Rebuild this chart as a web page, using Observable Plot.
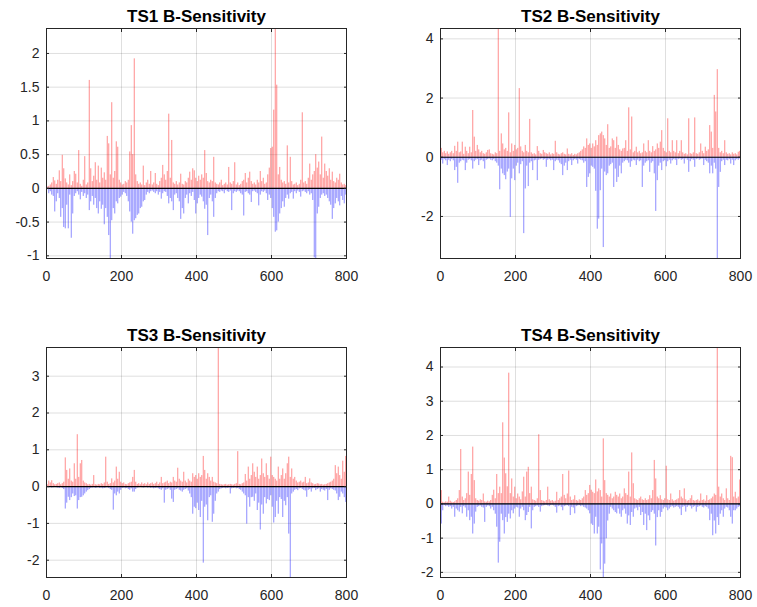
<!DOCTYPE html>
<html><head><meta charset="utf-8">
<script src="https://cdn.jsdelivr.net/npm/d3@7"></script>
<script src="https://cdn.jsdelivr.net/npm/@observablehq/plot@0.6"></script>
<style>
html,body{margin:0;padding:0;background:#fff;overflow:hidden}
body{width:757px;height:607px;position:relative;font-family:"Liberation Sans",Arial,Helvetica,sans-serif}
.p{position:absolute}
</style></head><body>
<div id="c1" class="p" style="left:0;top:0"></div>
<div id="c2" class="p" style="left:394px;top:0"></div>
<div id="c3" class="p" style="left:0;top:319px"></div>
<div id="c4" class="p" style="left:394px;top:319px"></div>
<script>
const titles = ["TS1 B-Sensitivity", "TS2 B-Sensitivity", "TS3 B-Sensitivity", "TS4 B-Sensitivity"];
const xTicks = [0, 200, 400, 600, 800];
const ts1YTicks = [-1, -0.5, 0, 0.5, 1, 1.5, 2];
const ts2YTicks = [-2, 0, 2, 4];
const ts3YTicks = [-2, -1, 0, 1, 2, 3];
const ts4YTicks = [-2, -1, 0, 1, 2, 3, 4];
const sampleStep = 4; // one bar value read per 4 samples

const ts1Pos = [
0.02,0.03,0.05,0.08,0.16,0.11,0.06,0.12,0.26,0.1,
0.49,0.29,0.14,0.08,0.05,0.2,0.04,0.1,0.25,0.21,
0.08,0.56,0.06,0.03,0.12,0.47,0.05,0.08,1.60,0.29,
0.1,0.18,0.38,0.12,0.33,0.08,0.30,0.15,0.23,0.12,
0.77,0.66,0.2,1.27,0.15,0.25,0.69,0.61,0.12,0.08,
0.05,0.06,0.1,0.08,0.12,0.54,0.93,0.5,1.92,0.2,
0.1,0.06,0.08,0.05,0.33,0.04,0.08,0.12,0.06,0.25,
0.05,0.08,0.22,0.06,0.04,0.1,0.15,0.34,0.2,0.12,
0.25,1.10,0.15,0.71,0.08,0.06,0.1,0.05,0.08,0.21,
0.06,0.05,0.1,0.08,0.15,0.24,0.12,0.29,0.26,0.15,
0.1,0.18,0.12,0.2,0.15,0.56,0.22,0.1,0.08,0.12,
0.1,0.46,0.08,0.06,0.05,0.08,0.12,0.04,0.06,0.08,
0.05,0.31,0.08,0.06,0.1,0.38,0.05,0.08,0.04,0.06,
0.1,0.12,0.22,0.08,0.15,0.24,0.1,0.06,0.08,0.05,
0.12,0.08,0.25,0.1,0.15,0.06,0.08,0.2,0.3,0.59,
0.61,1.16,2.37,1.53,0.2,0.31,0.12,0.08,0.1,0.06,
0.63,0.08,0.46,0.1,0.05,0.06,0.08,0.04,0.06,0.12,
1.12,0.08,0.1,0.06,0.15,0.36,0.12,0.2,0.25,0.5,
0.3,0.39,0.2,0.76,0.15,0.36,0.25,0.18,0.29,0.12,
0.24,0.1,0.08,0.15,0.12,0.21,0.08,0.05,0.06,0.04];
const ts1Neg = [
-0.02,-0.08,-0.05,-0.1,-0.12,-0.35,-0.2,-0.08,-0.15,-0.43,
-0.3,-0.58,-0.6,-0.25,-0.6,-0.1,-0.74,-0.38,-0.12,-0.08,
-0.05,-0.1,-0.17,-0.06,-0.12,-0.08,-0.15,-0.1,-0.33,-0.2,
-0.12,-0.25,-0.15,-0.3,-0.38,-0.2,-0.31,-0.25,-0.54,-0.3,
-0.43,-0.7,-1.04,-0.48,-0.3,-0.38,-0.2,-0.23,-0.15,-0.13,
-0.1,-0.06,-0.08,-0.12,-0.2,-0.35,-0.5,-0.68,-0.48,-0.45,
-0.4,-0.38,-0.3,-0.28,-0.2,-0.18,-0.1,-0.06,-0.08,-0.05,
-0.04,-0.06,-0.08,-0.05,-0.1,-0.06,-0.16,-0.08,-0.05,-0.06,
-0.12,-0.23,-0.15,-0.2,-0.33,-0.1,-0.08,-0.15,-0.2,-0.46,
-0.3,-0.38,-0.15,-0.1,-0.23,-0.08,-0.12,-0.06,-0.18,-0.38,
-0.23,-0.15,-0.1,-0.13,-0.2,-0.31,-0.25,-0.7,-0.15,-0.1,
-0.2,-0.43,-0.15,-0.08,-0.05,-0.06,-0.04,-0.05,-0.08,-0.03,
-0.05,-0.06,-0.04,-0.33,-0.08,-0.05,-0.06,-0.04,-0.05,-0.08,
-0.1,-0.41,-0.06,-0.05,-0.08,-0.1,-0.21,-0.05,-0.04,-0.06,
-0.08,-0.26,-0.1,-0.05,-0.06,-0.04,-0.08,-0.18,-0.1,-0.15,
-0.3,-0.43,-0.65,-0.63,-0.5,-0.38,-0.3,-0.2,-0.28,-0.15,
-0.1,-0.16,-0.08,-0.06,-0.16,-0.05,-0.08,-0.04,-0.06,-0.13,
-0.05,-0.04,-0.06,-0.08,-0.05,-0.1,-0.08,-0.18,-1.03,-1.04,
-0.38,-0.28,-0.15,-0.1,-0.08,-0.12,-0.1,-0.15,-0.2,-0.25,
-0.46,-0.3,-0.23,-0.15,-0.2,-0.26,-0.12,-0.18,-0.23,-0.1];

const ts2Pos = [
0.3,0.15,0.2,0.12,0.18,0.1,0.15,0.2,0.12,0.37,
0.2,0.51,0.15,0.18,0.51,0.1,0.34,0.2,0.12,0.34,
0.15,1.58,0.68,0.2,0.4,0.25,0.15,0.2,0.12,0.1,
0.15,0.23,0.25,0.12,0.1,0.08,0.15,0.12,4.35,0.2,
0.79,0.45,0.25,0.3,0.2,1.5,0.15,0.45,0.2,0.4,
0.25,0.3,2.32,0.35,0.2,0.15,0.4,0.2,0.15,1.28,
0.15,0.1,0.12,0.08,0.36,0.2,0.12,0.1,0.23,0.15,
0.12,0.1,0.15,0.08,0.12,0.1,0.54,0.15,0.1,0.08,
0.12,0.15,0.1,0.08,0.28,0.1,0.08,0.12,0.06,0.1,
0.08,0.12,0.15,0.2,0.25,0.35,0.3,0.62,0.4,0.45,
0.3,0.45,0.35,0.56,0.4,0.73,0.79,0.85,0.73,0.62,
0.4,1.1,0.3,0.35,0.62,0.56,0.3,0.68,0.4,0.25,
0.2,0.28,0.3,0.56,0.2,1.67,0.25,1.36,0.15,0.2,
0.34,0.15,0.2,0.12,0.15,0.45,0.2,0.15,0.56,0.2,
0.15,0.36,0.2,0.25,0.45,0.3,0.51,0.9,0.3,0.2,
0.15,1.3,0.2,0.15,0.56,0.2,0.15,0.56,0.12,0.2,
0.56,0.15,0.1,0.12,0.08,1.3,0.12,0.1,0.15,1.33,
0.12,0.1,0.15,0.45,0.2,0.12,0.34,0.2,0.25,1.07,
0.85,0.3,2.09,1.53,2.96,0.3,0.15,0.2,0.12,0.56,
0.15,0.1,0.12,0.08,0.15,0.1,0.12,0.08,0.17,0.2];
const ts2Neg = [
-0.1,-0.23,-0.08,-0.12,-0.28,-0.1,-0.15,-0.08,-0.12,-0.45,
-0.34,-0.88,-0.2,-0.15,-0.1,-0.12,-0.45,-0.2,-0.1,-0.08,
-0.12,-0.4,-0.15,-0.1,-0.08,-0.28,-0.12,-0.1,-0.15,-0.4,
-0.1,-0.08,-0.06,-0.1,-0.12,-0.08,-0.15,-0.2,-0.3,-1.1,
-0.4,-0.56,-0.62,-0.76,-0.5,-0.4,-2.03,-0.73,-0.4,-0.79,
-0.3,-0.2,-0.56,-0.25,-0.15,-2.58,-1.07,-0.3,-0.99,-0.2,
-0.15,-0.45,-0.12,-0.1,-0.79,-0.1,-0.08,-0.06,-0.1,-0.08,
-0.34,-0.1,-0.08,-0.12,-0.1,-0.45,-0.15,-0.1,-0.12,-0.2,
-0.25,-0.62,-0.3,-0.2,-0.45,-0.15,-0.1,-0.28,-0.12,-0.08,
-0.1,-0.23,-0.08,-0.1,-0.12,-0.2,-0.15,-1.02,-0.68,-0.56,
-0.3,-0.34,-0.4,-1.15,-2.43,-2.09,-1.13,-0.4,-3.05,-0.5,
-0.62,-0.56,-0.3,-0.25,-0.2,-1.02,-0.4,-0.85,-0.68,-0.3,
-0.56,-0.2,-0.15,-0.1,-0.12,-0.2,-0.34,-0.15,-0.1,-0.12,
-0.28,-0.1,-0.15,-0.12,-1.02,-0.3,-0.2,-0.15,-0.12,-0.51,
-0.2,-0.15,-0.56,-1.83,-0.79,-0.3,-0.2,-0.45,-0.15,-0.12,
-0.32,-0.15,-0.1,-0.23,-0.12,-0.08,-0.1,-0.28,-0.08,-0.06,
-0.1,-0.08,-0.23,-0.06,-0.1,-0.51,-0.15,-0.08,-0.1,-0.34,
-0.08,-0.06,-0.1,-0.08,-0.06,-0.28,-0.1,-0.15,-0.2,-0.56,
-0.3,-0.56,-0.2,-0.4,-3.42,-1.02,-0.51,-0.15,-0.1,-0.28,
-0.1,-0.12,-0.08,-0.23,-0.1,-0.28,-0.12,-0.08,-0.1,-0.06];

const ts3Pos = [
0.05,0.15,0.1,0.16,0.08,0.05,0.06,0.08,0.1,0.05,
0.08,0.12,0.78,0.44,0.2,0.48,0.15,0.12,0.62,0.2,
1.41,0.25,0.62,0.71,0.15,0.1,0.08,0.05,0.06,0.04,
0.06,0.3,0.05,0.04,0.06,0.05,0.08,0.06,0.1,0.8,
0.12,0.06,0.08,0.21,0.1,0.15,0.53,0.2,0.39,0.12,
0.08,0.1,0.06,0.05,0.08,0.1,0.12,0.25,0.44,0.12,
0.06,0.08,0.05,0.1,0.06,0.08,0.05,0.1,0.06,0.08,
0.1,0.06,0.08,0.12,0.06,0.1,0.25,0.08,0.1,0.12,
0.15,0.08,0.12,0.1,0.25,0.15,0.12,0.5,0.2,0.15,
0.12,0.39,0.15,0.1,0.2,0.15,0.12,0.35,0.25,0.3,
0.2,0.35,0.25,0.3,0.82,0.44,0.2,0.35,0.25,0.15,
0.25,0.12,0.1,0.08,3.78,0.06,0.05,0.04,0.05,0.06,
0.04,0.05,0.06,0.05,0.04,0.06,0.08,0.95,0.06,0.05,
0.08,0.1,0.33,0.15,0.53,0.2,0.3,0.62,0.39,0.25,
0.53,0.2,0.3,0.75,0.35,0.25,0.62,0.3,0.2,0.8,
0.3,0.25,0.2,0.15,0.53,0.2,0.3,0.48,0.2,0.35,
0.62,0.8,0.25,0.48,0.2,0.25,0.15,0.1,0.12,0.15,
0.1,0.12,0.25,0.08,0.1,0.21,0.1,0.08,0.05,0.06,
0.08,0.07,0.05,0.06,0.04,0.05,0.06,0.08,0.1,0.12,
0.15,0.2,0.57,0.35,0.53,0.3,0.2,0.69,0.39,0.82];
const ts3Neg = [
-0.02,-0.03,-0.02,-0.04,-0.03,-0.02,-0.03,-0.04,-0.05,-0.03,
-0.05,-0.08,-0.61,-0.45,-0.29,-0.38,-0.3,-0.2,-0.27,-0.25,
-0.61,-0.38,-0.3,-0.29,-0.25,-0.2,-0.15,-0.11,-0.08,-0.05,
-0.04,-0.03,-0.05,-0.04,-0.03,-0.05,-0.04,-0.06,-0.05,-0.04,
-0.03,-0.05,-0.08,-0.1,-0.64,-0.2,-0.25,-0.15,-0.2,-0.1,
-0.05,-0.04,-0.06,-0.05,-0.08,-0.1,-0.06,-0.15,-0.15,-0.08,
-0.04,-0.03,-0.02,-0.03,-0.04,-0.03,-0.02,-0.04,-0.03,-0.05,
-0.04,-0.06,-0.05,-0.04,-0.06,-0.08,-0.1,-0.06,-0.45,-0.1,
-0.08,-0.06,-0.1,-0.34,-0.43,-0.1,-0.08,-0.06,-0.1,-0.12,
-0.15,-0.1,-0.08,-0.06,-0.12,-0.2,-0.3,-0.75,-0.56,-0.6,
-0.45,-0.65,-0.84,-0.4,-2.08,-0.56,-0.5,-0.93,-0.3,-0.25,
-0.97,-0.75,-0.4,-0.2,-0.15,-0.08,-0.06,-0.05,-0.04,-0.06,
-0.05,-0.04,-0.2,-0.06,-0.05,-0.04,-0.06,-0.05,-0.08,-0.1,
-0.15,-0.2,-0.25,-1.02,-0.3,-0.56,-0.3,-0.29,-0.4,-0.2,
-0.65,-0.45,-1.18,-0.5,-0.75,-0.3,-0.47,-0.35,-0.38,-0.25,
-0.56,-0.99,-0.84,-0.4,-0.75,-0.3,-0.35,-0.84,-0.4,-0.52,
-0.3,-1.29,-2.47,-0.2,-0.15,-0.1,-0.08,-0.11,-0.06,-0.05,
-0.08,-0.1,-0.12,-0.29,-0.1,-0.08,-0.15,-0.06,-0.05,-0.11,
-0.08,-0.06,-0.15,-0.08,-0.1,-0.12,-0.08,-0.38,-0.1,-0.06,
-0.08,-0.1,-0.12,-0.2,-0.38,-0.29,-0.15,-0.2,-0.3,-0.43];

const ts4Pos = [
0.39,0.05,0.03,0.06,0.05,0.2,0.08,0.05,0.04,0.06,
0.1,0.15,0.39,1.59,0.2,0.1,0.15,0.3,0.93,0.25,
0.86,1.66,0.68,0.15,0.1,0.08,0.12,0.1,0.29,0.06,
0.05,0.08,0.06,0.1,0.25,0.4,0.15,0.86,0.3,0.49,
0.3,2.37,1.34,0.88,0.5,3.82,0.3,0.73,0.2,0.49,
0.15,0.29,0.2,0.12,0.35,0.78,0.2,0.93,1.07,0.3,
0.49,0.12,0.1,0.08,0.15,2.02,0.39,0.1,0.08,0.06,
0.1,0.49,0.12,0.08,0.1,0.06,0.08,0.34,0.1,0.15,
0.2,0.86,0.25,0.15,0.29,0.96,0.2,0.1,0.12,0.24,
0.1,0.08,0.12,0.1,0.15,0.2,0.39,0.25,0.3,0.54,
0.4,0.34,0.3,0.70,0.35,0.44,0.39,0.2,1.9,0.68,
0.3,0.25,0.2,0.29,0.15,0.2,0.34,0.25,0.2,0.29,
0.15,0.2,0.44,0.3,0.25,0.93,0.2,1.49,0.59,0.15,
0.12,0.1,0.15,0.2,0.12,0.1,0.15,0.1,0.12,0.24,
0.15,0.39,1.27,0.73,0.2,0.15,0.24,0.12,0.1,0.15,
1.1,0.12,0.1,0.29,0.12,0.08,0.1,0.12,0.15,0.39,
0.2,0.15,0.44,0.12,0.08,0.1,0.15,0.24,0.1,0.08,
0.1,0.12,0.08,0.29,0.1,0.12,0.08,0.24,0.1,0.12,
0.15,0.2,0.29,0.25,4.57,0.49,0.2,0.29,0.15,0.1,
0.44,0.15,0.1,1.39,1.35,0.2,0.34,0.15,0.2,0.70];
const ts4Neg = [
-0.59,-0.2,-0.05,-0.08,-0.06,-0.1,-0.08,-0.15,-0.1,-0.39,
-0.15,-0.2,-0.24,-0.1,-0.29,-0.08,-0.12,-0.39,-0.2,-0.49,
-0.39,-0.88,-0.59,-0.24,-0.1,-0.08,-0.06,-0.1,-0.12,-0.54,
-0.1,-0.06,-0.08,-0.15,-0.1,-0.2,-0.3,-0.68,-1.73,-1.12,
-0.3,-0.49,-0.88,-0.4,-0.54,-0.3,-0.44,-0.2,-0.29,-0.15,
-0.1,-0.12,-0.39,-0.15,-0.1,-0.2,-0.49,-0.34,-0.25,-0.1,
-0.73,-0.2,-0.1,-0.08,-0.06,-0.1,-0.24,-0.08,-0.06,-0.05,
-0.04,-0.06,-0.08,-0.05,-0.04,-0.06,-0.1,-0.27,-0.08,-0.06,
-0.1,-0.2,-0.08,-0.06,-0.05,-0.08,-0.34,-0.1,-0.12,-0.29,
-0.08,-0.06,-0.05,-0.08,-0.06,-0.1,-0.12,-0.15,-0.2,-0.29,
-0.59,-0.63,-0.88,-0.39,-0.88,-0.68,-1.93,-1.17,-2.15,-1.76,
-1.02,-0.5,-0.3,-0.1,-0.15,-0.2,-0.25,-0.29,-0.15,-0.3,
-0.39,-0.2,-0.15,-0.3,-0.59,-0.35,-0.63,-0.25,-0.39,-0.15,
-0.12,-0.2,-0.1,-0.34,-0.25,-0.63,-0.3,-0.78,-0.35,-0.49,
-0.25,-0.2,-0.3,-1.23,-0.4,-0.2,-0.39,-0.25,-0.15,-0.1,
-0.12,-0.2,-0.15,-0.1,-0.08,-0.12,-0.1,-0.08,-0.1,-0.15,
-0.34,-0.1,-0.08,-0.24,-0.1,-0.06,-0.08,-0.15,-0.1,-0.08,
-0.24,-0.1,-0.08,-0.06,-0.1,-0.12,-0.08,-0.1,-0.15,-0.49,
-0.3,-0.93,-0.5,-0.88,-0.4,-0.63,-0.3,-0.2,-0.39,-0.15,
-0.1,-0.12,-0.2,-0.39,-0.59,-0.2,-0.2,-0.15,-0.1,-0.08];

const FONT = '"Liberation Sans", Arial, Helvetica, sans-serif';
const fmt = d => String(d);

function panel(title, pos, neg, yTicks, opts) {
  const toRows = arr => arr.map((v, k) => ({x: k * sampleStep + 2, v}));
  const posRows = toRows(pos), negRows = toRows(neg);
  const [lo, hi] = d3.extent(pos.concat(neg));
  const gridStyle = {stroke: "#262626", strokeOpacity: 0.15};
  return Plot.plot({
    width: opts.width, height: opts.height,
    marginLeft: 46, marginRight: opts.marginRight, marginTop: 28, marginBottom: opts.marginBottom,
    style: {fontFamily: FONT, fontSize: "14px", color: "#262626", background: "white", overflow: "visible"},
    x: {domain: [0, 800]},
    y: {domain: [lo, hi]},
    marks: [
      Plot.gridX(xTicks, gridStyle),
      Plot.gridY(yTicks, gridStyle),
      Plot.ruleX(posRows, {x: "x", y1: 0, y2: "v", stroke: "#ff0000", strokeOpacity: 0.45, strokeWidth: 1}),
      Plot.ruleX(negRows, {x: "x", y1: 0, y2: "v", stroke: "#0000ff", strokeOpacity: 0.45, strokeWidth: 1}),
      Plot.ruleY([0], {stroke: "#000", strokeWidth: 1.2}),
      Plot.frame({stroke: "#262626"}),
      Plot.axisX(xTicks, {anchor: "bottom", tickSize: 0, tickPadding: 13, label: null, tickFormat: fmt}),
      Plot.axisX(xTicks, {anchor: "bottom", tickSize: 3, dy: -3, fill: "none", label: null}),
      Plot.axisX(xTicks, {anchor: "top", tickSize: 3, dy: 3, fill: "none", label: null}),
      Plot.axisY(yTicks, {anchor: "left", tickSize: 0, tickPadding: 7, label: null, tickFormat: fmt}),
      Plot.axisY(yTicks, {anchor: "left", tickSize: 3, dx: 3, fill: "none", label: null}),
      Plot.axisY(yTicks, {anchor: "right", tickSize: 3, dx: -3, fill: "none", label: null}),
      Plot.text([title], {frameAnchor: "top", lineAnchor: "middle", dy: -11.5, fontWeight: "bold", fontSize: 17, fill: "#000"})
    ]
  });
}

document.getElementById("c1").append(panel(titles[0], ts1Pos, ts1Neg, ts1YTicks, {width: 378, height: 300, marginRight: 32, marginBottom: 42}));
document.getElementById("c2").append(panel(titles[1], ts2Pos, ts2Neg, ts2YTicks, {width: 362, height: 300, marginRight: 16, marginBottom: 42}));
document.getElementById("c3").append(panel(titles[2], ts3Pos, ts3Neg, ts3YTicks, {width: 378, height: 288, marginRight: 32, marginBottom: 30}));
document.getElementById("c4").append(panel(titles[3], ts4Pos, ts4Neg, ts4YTicks, {width: 362, height: 288, marginRight: 16, marginBottom: 30}));
</script>
</body></html>
